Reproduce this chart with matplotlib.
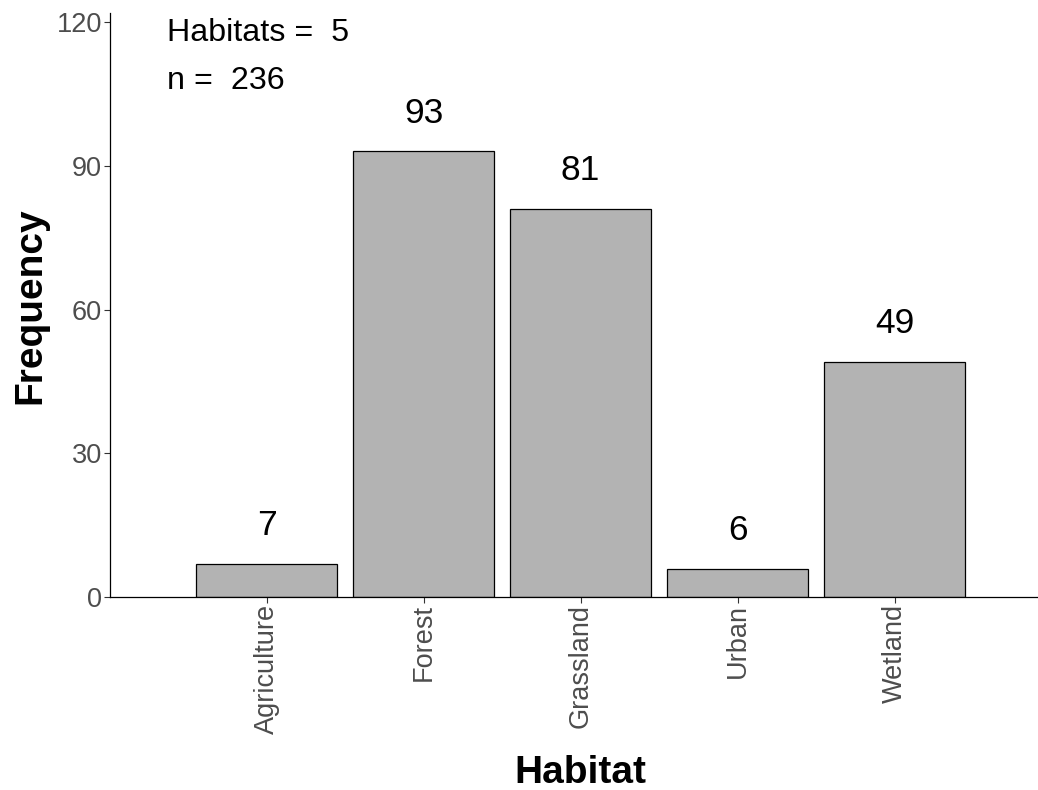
import matplotlib
matplotlib.use("Agg")
import matplotlib.pyplot as plt

habitats = ["Agriculture", "Forest", "Grassland", "Urban", "Wetland"]
counts = [7, 93, 81, 6, 49]
n_total = 236
y_ticks = [0, 30, 60, 90, 120]

plt.rcParams["font.family"] = ["Liberation Sans", "DejaVu Sans"]

fig = plt.figure(figsize=(10.38, 7.9), dpi=100)
ax = fig.add_axes([0.1057, 0.2439, 1.0 - 0.1057, 0.9832 - 0.2439])

positions = list(range(1, len(habitats) + 1))
ax.bar(positions, counts, width=0.9, color="#B3B3B3",
       edgecolor="black", linewidth=0.9, zorder=2)

# count labels above bars
for x, c in zip(positions, counts):
    ax.text(x, c + 8, str(c), ha="center", va="center",
            fontsize=25.5, color="black")

ax.text(0.363, 117.7, f"Habitats =  {len(habitats)}", ha="left", va="center",
        fontsize=23.2, color="black")
ax.text(0.363, 107.7, f"n =  {n_total}", ha="left", va="center",
        fontsize=23.2, color="black")

ax.set_xlim(0, 5.914)
ax.set_ylim(0, 121.8)
ax.set_xticks(positions)
ax.set_xticklabels(habitats, rotation=90, fontsize=19.5, color="#4D4D4D")
ax.set_yticks(y_ticks)
ax.set_yticklabels([str(v) for v in y_ticks], fontsize=19.5, color="#4D4D4D")
ax.tick_params(axis="both", length=4.5, width=0.8, color="#333333", pad=1)
ax.tick_params(axis="x", pad=0)

for side in ["top", "right"]:
    ax.spines[side].set_visible(False)
for side in ["left", "bottom"]:
    ax.spines[side].set_linewidth(0.9)
    ax.spines[side].set_color("black")

ax.set_xlabel("Habitat", fontsize=28, fontweight="bold", va="center")
ax.xaxis.set_label_coords(0.507, -0.301)
ax.set_ylabel("Frequency", fontsize=28, fontweight="bold", labelpad=6)

fig.savefig("out.png", dpi=100)
